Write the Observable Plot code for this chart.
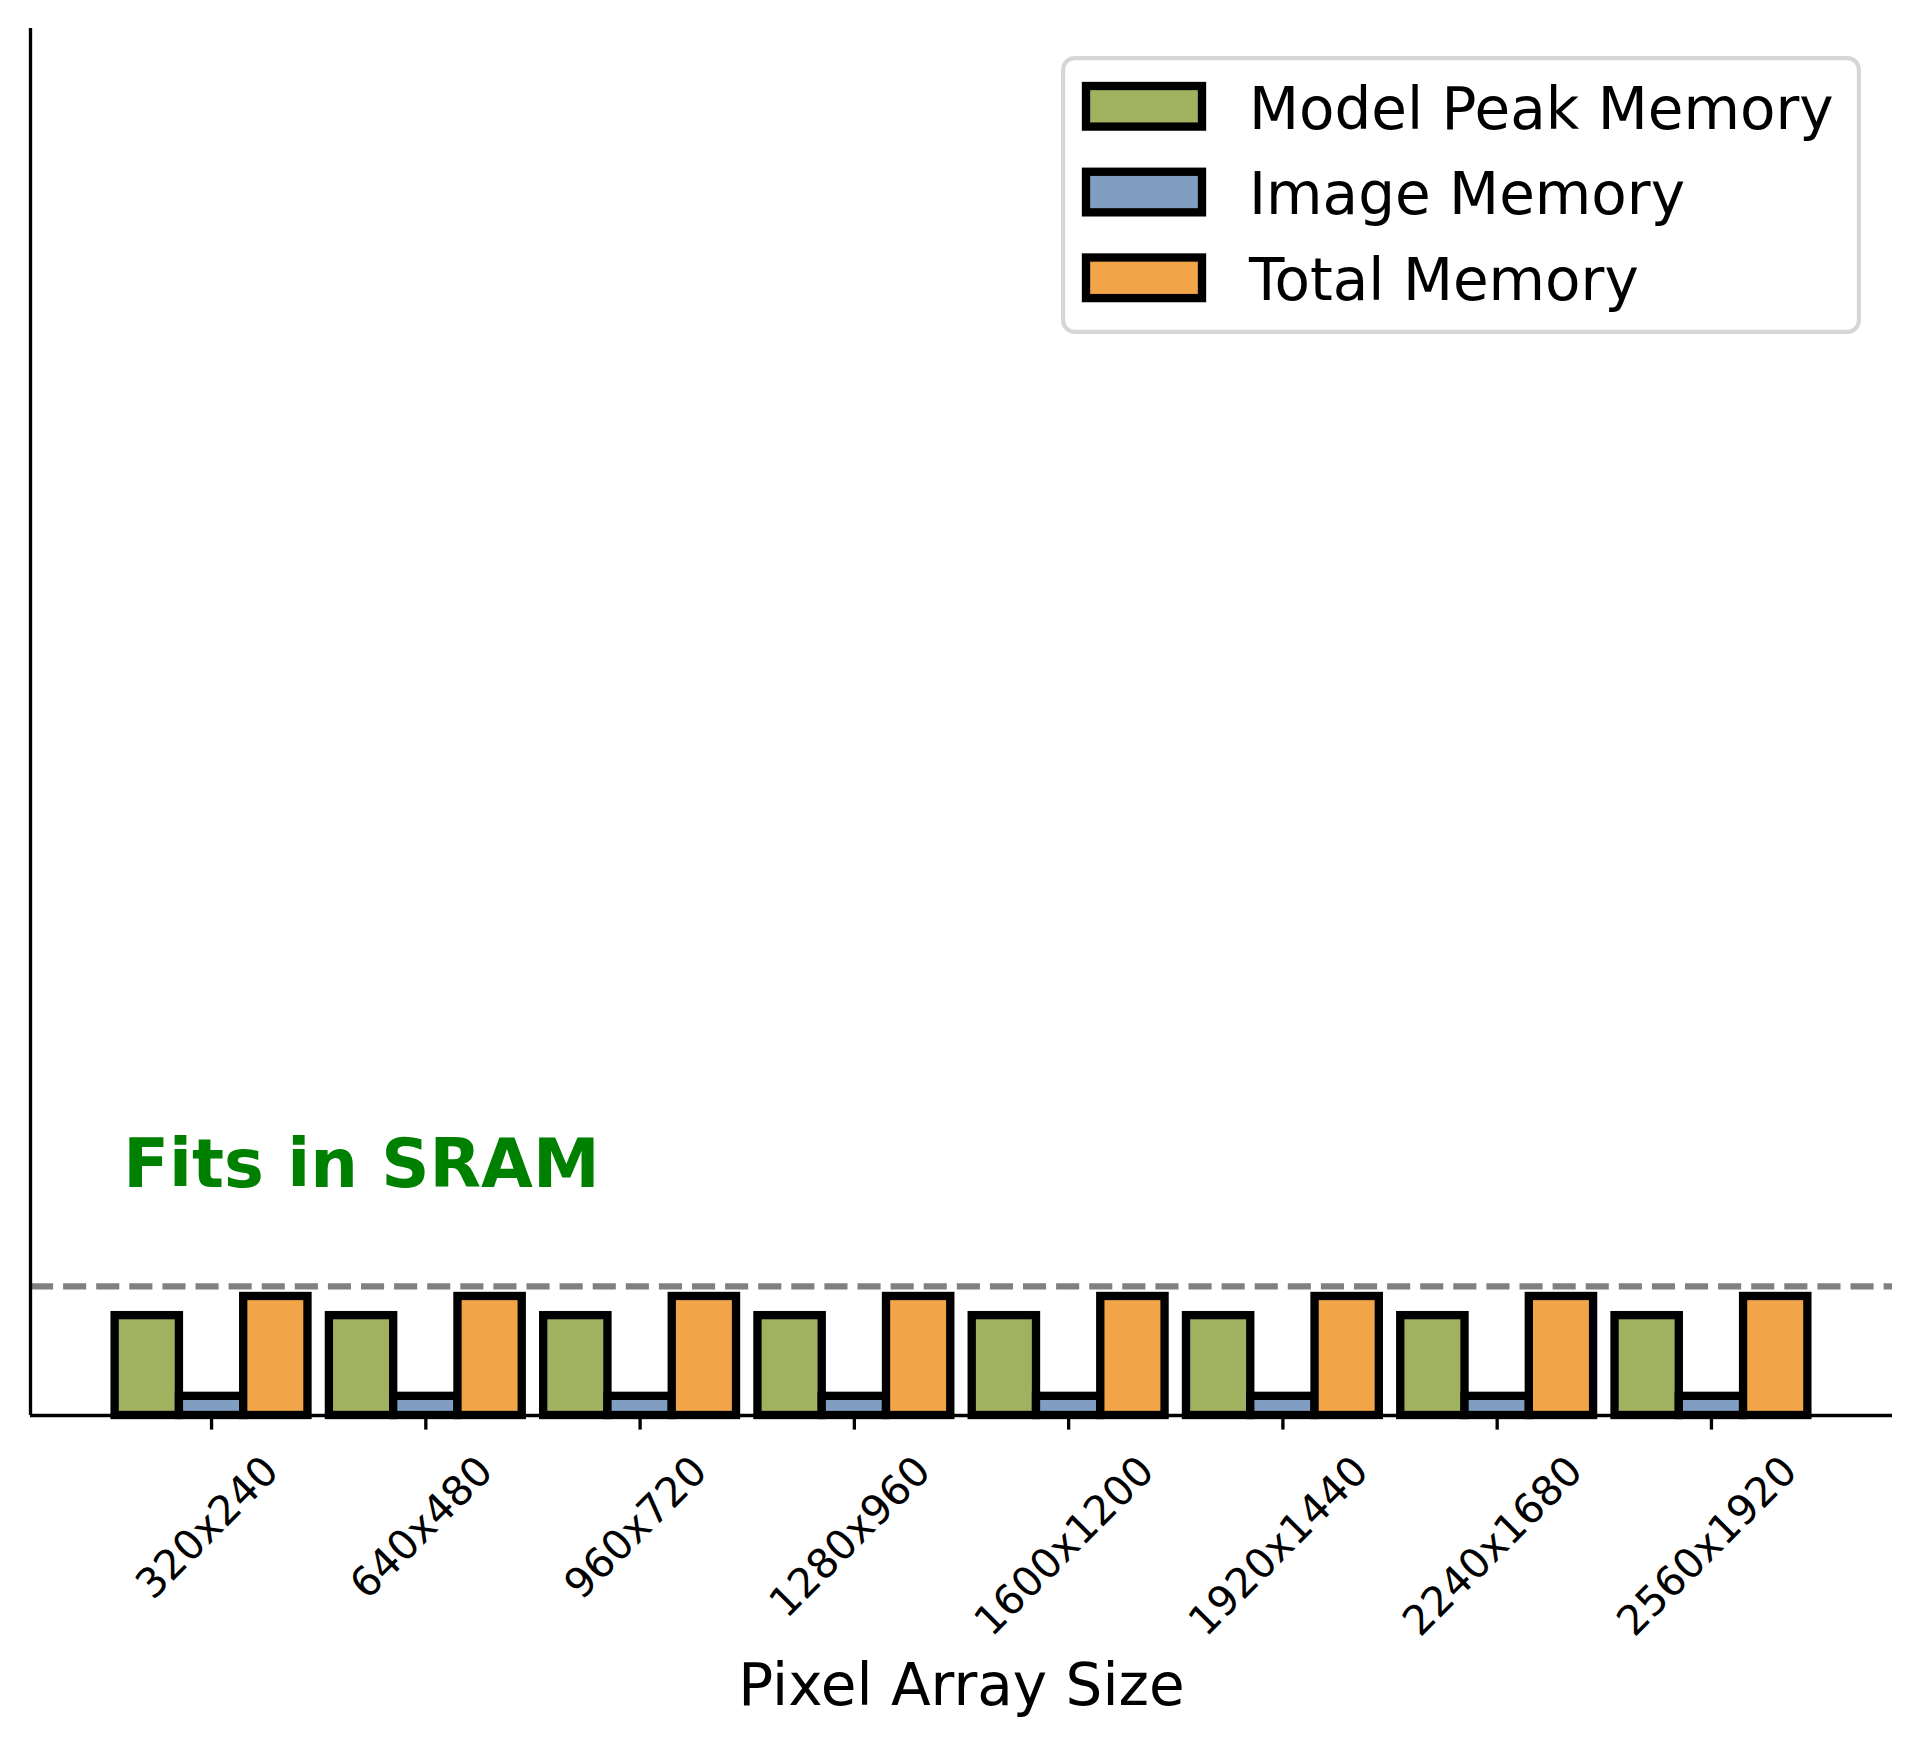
<!DOCTYPE html>
<html>
<head>
<meta charset="utf-8">
<script src="https://cdn.jsdelivr.net/npm/d3@7"></script>
<script src="https://cdn.jsdelivr.net/npm/@observablehq/plot@0.6"></script>
<style>
  html, body { margin: 0; padding: 0; background: #ffffff; overflow: hidden; }
  #chart { position: relative; width: 1919px; height: 1745px; }
  #chart svg { position: absolute; left: 0; top: 0; }
</style>
</head>
<body>
<div id="chart"></div>
<script>
// ---------------- data ----------------
const categories = ["320x240", "640x480", "960x720", "1280x960", "1600x1200", "1920x1440", "2240x1680", "2560x1920"];
const modelPeakMemory = [198, 198, 198, 198, 198, 198, 198, 198];
const imageMemory     = [38, 38, 38, 38, 38, 38, 38, 38];
const totalMemory     = [236, 236, 236, 236, 236, 236, 236, 236];
const sramLimit = 256;
const yMax = 2750;
const seriesNames = ["Model Peak Memory", "Image Memory", "Total Memory"];
const xAxisLabel = "Pixel Array Size";
const annotations = [{text: "Fits in SRAM", x: -0.412, y: 454}];

// ---------------- style ----------------
const seriesColors = ["#a0b260", "#7f9ec2", "#f1a548"];
const FONT = "'DejaVu Sans', 'Liberation Sans', sans-serif";
const barWidth = 0.3;
const spineWidth = 3.33;
const edgeWidth = 8.33;
const tickFs = 41;

const rows = [];
[modelPeakMemory, imageMemory, totalMemory].forEach((vals, k) =>
  vals.forEach((v, i) => rows.push({i, k, series: seriesNames[k], value: v}))
);
const n = categories.length;
const xDomain = [-0.45 - 0.395, (n - 1) + 0.45 + 0.395];

const ctx = document.createElement("canvas").getContext("2d");
ctx.font = `${tickFs}px 'DejaVu Sans'`;

const tickLabelMarks = categories.map((c, i) => {
  const w = ctx.measureText(c).width;
  return Plot.text([c], {
    x: () => i, text: d => d, frameAnchor: "bottom",
    rotate: -45, textAnchor: "middle", lineAnchor: "middle",
    dy: 40 + 0.354 * (w + 0.579 * tickFs), dx: -4,
    fontSize: tickFs, fill: "black"
  });
});

const plot = Plot.plot({
  width: 1919,
  height: 1745,
  marginTop: 28,
  marginRight: 27,
  marginBottom: 330,
  marginLeft: 30,
  style: {fontFamily: FONT, background: "transparent", overflow: "visible"},
  x: {type: "linear", domain: xDomain, axis: null},
  y: {type: "linear", domain: [0, yMax], axis: null},
  color: {domain: seriesNames, range: seriesColors},
  marks: [
    Plot.rect(rows, {
      x1: d => d.i - 0.45 + barWidth * d.k,
      x2: d => d.i - 0.45 + barWidth * (d.k + 1),
      y1: 0, y2: "value",
      fill: "series", stroke: "black", strokeWidth: edgeWidth
    }),
    Plot.ruleY([sramLimit], {stroke: "#808080", strokeWidth: 6.25, strokeDasharray: "23.1,10"}),
    Plot.ruleY([0], {stroke: "black", strokeWidth: spineWidth}),
    Plot.ruleX([xDomain[0]], {stroke: "black", strokeWidth: spineWidth}),
    Plot.ruleX(d3.range(n), {x: d => d, y1: 0, y2: 0, insetBottom: -14.6, stroke: "black", strokeWidth: spineWidth}),
    ...tickLabelMarks,
    Plot.text([xAxisLabel], {text: d => d, frameAnchor: "bottom", lineAnchor: "middle", dy: 1704 - 0.32 * 58 - 1415, fontSize: 58, fill: "black"}),
    Plot.text(annotations, {x: "x", y: "y", text: "text", textAnchor: "start", lineAnchor: "middle", dy: -0.32 * 67, fontSize: 67, fontWeight: "bold", fill: "green"})
  ]
});
document.getElementById("chart").appendChild(plot);

// ---------------- legend (overlay) ----------------
const leg = d3.select("#chart").append("svg")
  .attr("width", 1919).attr("height", 1745)
  .style("pointer-events", "none");
leg.append("rect")
  .attr("x", 1063.1).attr("y", 58.1).attr("width", 795.8).attr("height", 273.8)
  .attr("rx", 11.6).attr("ry", 11.6)
  .attr("fill", "white").attr("fill-opacity", 0.8)
  .attr("stroke", "#cccccc").attr("stroke-opacity", 0.8).attr("stroke-width", 4.17);
seriesNames.forEach((name, k) => {
  leg.append("rect")
    .attr("x", 1086).attr("y", 86 + 85.75 * k).attr("width", 116).attr("height", 40.6)
    .attr("fill", seriesColors[k]).attr("stroke", "black").attr("stroke-width", edgeWidth);
  leg.append("text")
    .attr("x", 1249).attr("y", 128.5 + 85.75 * k)
    .attr("font-family", FONT).attr("font-size", 58).attr("fill", "black")
    .text(name);
});
</script>
</body>
</html>
